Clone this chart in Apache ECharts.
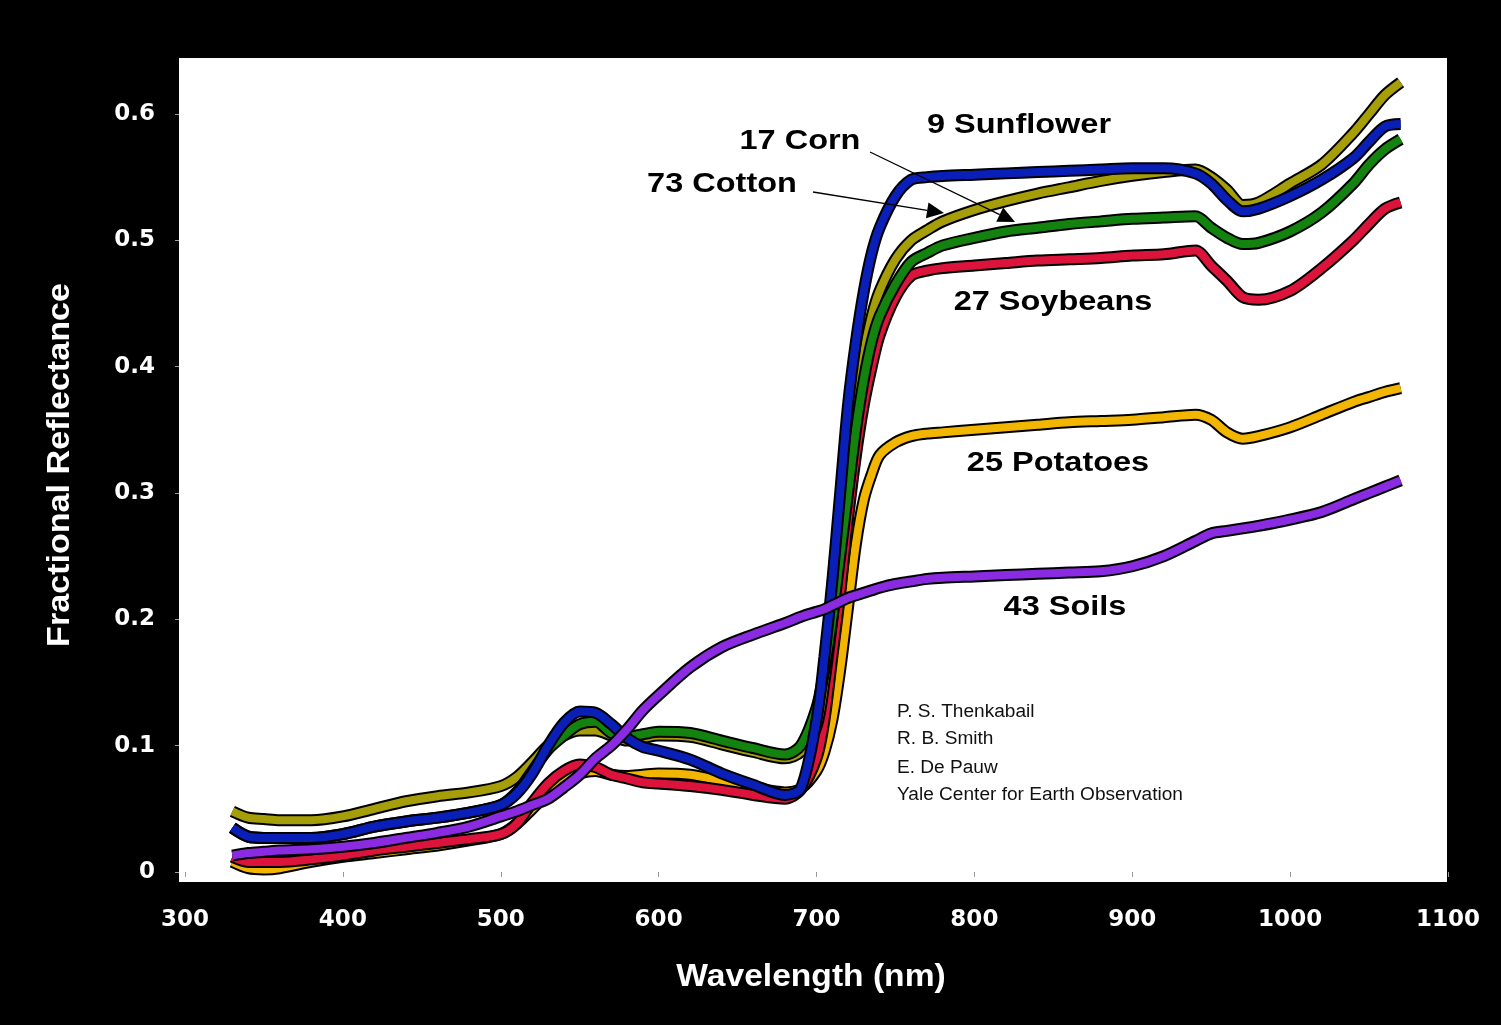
<!DOCTYPE html>
<html>
<head>
<meta charset="utf-8">
<script src="https://cdn.jsdelivr.net/npm/echarts@6/dist/echarts.min.js"></script>
<style>
html,body{margin:0;padding:0;background:#000;}
#chart{width:1501px;height:1025px;}
</style>
</head>
<body>
<div id="chart"></div>
<script>
// Wavelength samples (nm)
const wavelengths = [330,340,350,360,380,400,420,440,460,480,500,510,520,530,540,550,560,570,580,590,600,620,640,660,680,690,700,705,710,715,720,725,730,735,740,750,760,770,780,800,820,840,860,880,900,920,940,950,960,970,980,1000,1020,1040,1050,1060,1070];

const potatoes = [0.008,0.003,0.002,0.003,0.008,0.012,0.015,0.018,0.021,0.025,0.030,0.038,0.050,0.062,0.072,0.078,0.080,0.077,0.076,0.077,0.078,0.077,0.072,0.067,0.063,0.066,0.080,0.095,0.120,0.160,0.210,0.260,0.295,0.315,0.330,0.340,0.345,0.347,0.348,0.350,0.352,0.354,0.356,0.357,0.358,0.360,0.362,0.358,0.348,0.343,0.345,0.352,0.362,0.372,0.376,0.380,0.383];

const soybeans = [0.012,0.008,0.008,0.008,0.010,0.013,0.017,0.020,0.023,0.026,0.030,0.038,0.055,0.070,0.080,0.085,0.083,0.077,0.074,0.071,0.070,0.068,0.065,0.061,0.058,0.065,0.090,0.120,0.170,0.220,0.280,0.330,0.370,0.400,0.425,0.455,0.472,0.476,0.478,0.480,0.482,0.484,0.485,0.486,0.488,0.489,0.492,0.480,0.468,0.455,0.453,0.460,0.478,0.500,0.513,0.525,0.530];

const cotton = [0.048,0.043,0.042,0.041,0.041,0.044,0.050,0.056,0.060,0.063,0.068,0.075,0.087,0.100,0.108,0.112,0.112,0.108,0.104,0.106,0.108,0.107,0.101,0.095,0.090,0.095,0.115,0.150,0.200,0.260,0.320,0.370,0.410,0.440,0.460,0.485,0.500,0.508,0.515,0.524,0.531,0.537,0.542,0.547,0.551,0.554,0.556,0.550,0.540,0.528,0.530,0.545,0.560,0.585,0.600,0.615,0.625];

const corn = [0.035,0.028,0.027,0.027,0.027,0.030,0.036,0.040,0.043,0.047,0.053,0.063,0.080,0.097,0.108,0.117,0.119,0.110,0.107,0.109,0.111,0.110,0.104,0.098,0.093,0.100,0.130,0.160,0.200,0.250,0.300,0.350,0.390,0.420,0.440,0.465,0.483,0.490,0.496,0.502,0.507,0.510,0.513,0.515,0.517,0.518,0.519,0.510,0.502,0.497,0.498,0.507,0.522,0.545,0.560,0.572,0.580];

const sunflower = [0.035,0.028,0.027,0.027,0.027,0.030,0.036,0.040,0.043,0.047,0.053,0.062,0.078,0.100,0.118,0.127,0.126,0.117,0.106,0.099,0.096,0.089,0.078,0.069,0.061,0.066,0.120,0.170,0.230,0.300,0.370,0.420,0.460,0.490,0.510,0.535,0.548,0.550,0.551,0.552,0.553,0.554,0.555,0.556,0.557,0.557,0.553,0.545,0.532,0.523,0.525,0.535,0.548,0.565,0.578,0.590,0.592];

const soils = [0.013,0.015,0.016,0.017,0.018,0.020,0.023,0.027,0.031,0.036,0.044,0.048,0.053,0.058,0.067,0.077,0.090,0.100,0.113,0.128,0.140,0.162,0.178,0.188,0.197,0.202,0.206,0.208,0.211,0.214,0.217,0.219,0.221,0.223,0.225,0.228,0.230,0.232,0.233,0.234,0.235,0.236,0.237,0.238,0.242,0.250,0.262,0.268,0.270,0.272,0.274,0.279,0.285,0.295,0.300,0.305,0.310];

const xTicks = [300,400,500,600,700,800,900,1000,1100];
const yTicks = [0,0.1,0.2,0.3,0.4,0.5,0.6];

// drawing order: bottom to top
const curves = [
  {name:'25 Potatoes', values:potatoes, color:'#f2b600'},
  {name:'27 Soybeans', values:soybeans, color:'#dc143c'},
  {name:'73 Cotton', values:cotton, color:'#a69e08'},
  {name:'17 Corn', values:corn, color:'#14820f'},
  {name:'9 Sunflower', values:sunflower, color:'#0a1fb8'},
  {name:'43 Soils', values:soils, color:'#8a2be2'}
];

const labels = [
  {text:'9 Sunflower', x:1019, y:125},
  {text:'17 Corn', x:800, y:141},
  {text:'73 Cotton', x:722, y:184},
  {text:'27 Soybeans', x:1053, y:302},
  {text:'25 Potatoes', x:1058, y:463},
  {text:'43 Soils', x:1065, y:607}
];
const credits = ['P. S. Thenkabail','R. B. Smith','E. De Pauw','Yale Center for Earth Observation'];

const FONT = "'Liberation Sans', Arial, Helvetica, sans-serif";
const TICKFONT = "'DejaVu Sans', Verdana, sans-serif";

const series = [];
curves.forEach(c => {
  const data = wavelengths.map((w,i)=>[w,c.values[i]]);
  series.push({type:'line', xAxisIndex:1, yAxisIndex:1, data, showSymbol:false, smooth:0.3, clip:false, silent:true,
    lineStyle:{color:'#000', width:12}, z:2});
  series.push({type:'line', xAxisIndex:1, yAxisIndex:1, data, showSymbol:false, smooth:0.3, clip:false, silent:true,
    lineStyle:{color:c.color, width:8}, z:2});
});

function arrow(x1,y1,x2,y2){
  const dx=x2-x1, dy=y2-y1, L=Math.hypot(dx,dy), ux=dx/L, uy=dy/L;
  const hl=17, hw=8;
  const bx=x2-ux*hl, by=y2-uy*hl;
  return [
    {type:'line', shape:{x1,y1,x2:bx,y2:by}, style:{stroke:'#000', lineWidth:1.3}, z:10},
    {type:'polygon', shape:{points:[[x2,y2],[bx-uy*hw,by+ux*hw],[bx+uy*hw,by-ux*hw]]}, style:{fill:'#000'}, z:10}
  ];
}

const graphics = [];
labels.forEach(l => graphics.push({type:'text', x:l.x, y:l.y, z:10, scaleX:1.16,
  style:{text:l.text, font:"bold 28px "+FONT, fill:'#000', textAlign:'center', textVerticalAlign:'middle'}}));
const creditY=[712,739,768,795];
credits.forEach((t,i)=>graphics.push({type:'text', x:897, y:creditY[i], z:10, scaleX:1.06,
  style:{text:t, font:"18px "+FONT, fill:'#111', textAlign:'left', textVerticalAlign:'middle'}}));
graphics.push(...arrow(813,192,944,213));
graphics.push(...arrow(870,152,1015,222));
graphics.push({type:'text', x:811, y:977, z:10, scaleX:1.05,
  style:{text:'Wavelength (nm)', font:"bold 32px "+FONT, fill:'#fff', textAlign:'center', textVerticalAlign:'middle'}});
graphics.push({type:'text', x:60, y:465, rotation:Math.PI/2, z:10, scaleX:1.1,
  style:{text:'Fractional Reflectance', font:"bold 31px "+FONT, fill:'#fff', textAlign:'center', textVerticalAlign:'middle'}});

const chart = echarts.init(document.getElementById('chart'), null, {renderer:'canvas'});
chart.setOption({
  backgroundColor:'#000',
  animation:false,
  grid:[
    {left:179, top:58, width:1268, height:824, show:true, backgroundColor:'#fff', borderWidth:0},
    {left:185, right:53, top:114, bottom:153}
  ],
  xAxis:[
    {gridIndex:0, type:'value', show:false, min:0, max:1},
    {gridIndex:1, type:'value', min:xTicks[0], max:xTicks[xTicks.length-1], interval:100, offset:10,
     axisLine:{show:false}, splitLine:{show:false},
     axisTick:{show:true, length:5, lineStyle:{color:'#999'}},
     axisLabel:{color:'#fff', fontSize:23, fontWeight:'bold', fontFamily:TICKFONT, margin:27,
       formatter:v=>String(v)}}
  ],
  yAxis:[
    {gridIndex:0, type:'value', show:false, min:0, max:1},
    {gridIndex:1, type:'value', min:yTicks[0], max:yTicks[yTicks.length-1], interval:0.1, offset:6,
     axisLine:{show:false}, splitLine:{show:false},
     axisTick:{show:true, length:4, lineStyle:{color:'#999'}},
     axisLabel:{color:'#fff', fontSize:23, fontWeight:'bold', fontFamily:TICKFONT, margin:24,
       formatter:v=>v===0?'0':v.toFixed(1)}}
  ],
  series,
  graphic:graphics
});
</script>
</body>
</html>
